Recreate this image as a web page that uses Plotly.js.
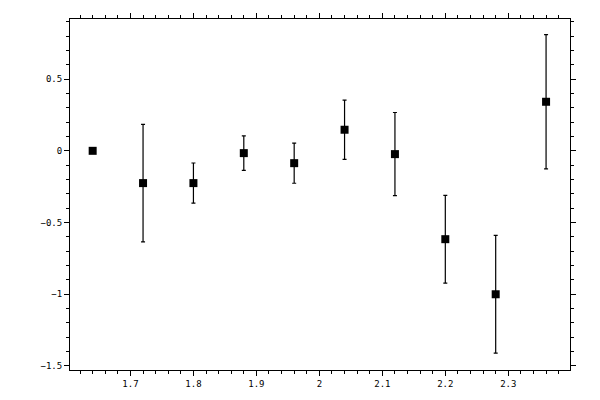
<!DOCTYPE html>
<html>
<head>
<meta charset="utf-8">
<script src="https://cdn.plot.ly/plotly-3.0.1.min.js"></script>
<style>
  html, body { margin: 0; padding: 0; background: #fff; }
  #plot { width: 600px; height: 400px; }
</style>
</head>
<body>
<div id="plot"></div>
<script>
  // values
  var xVals = [1.64, 1.72, 1.80, 1.88, 1.96, 2.04, 2.12, 2.20, 2.28, 2.36];
  var yVals = [0.0, -0.225, -0.225, -0.016, -0.086, 0.147, -0.023, -0.616, -1.0, 0.342];
  var yErr  = [0.0, 0.41, 0.14, 0.12, 0.14, 0.207, 0.29, 0.306, 0.41, 0.468];

  var axisFont = { family: 'DejaVu Sans Mono', size: 9, color: '#000' };

  var trace = {
    x: xVals,
    y: yVals,
    type: 'scatter',
    mode: 'markers',
    marker: { symbol: 'square', size: 8, color: '#000' },
    error_y: {
      type: 'data',
      array: yErr,
      visible: true,
      color: '#000',
      thickness: 1.2,
      width: 2
    },
    showlegend: false
  };

  var layout = {
    width: 600,
    height: 400,
    margin: { l: 70, r: 30, t: 19, b: 30 },
    paper_bgcolor: '#fff',
    plot_bgcolor: '#fff',
    xaxis: {
      range: [1.604, 2.398],
      dtick: 0.1,
      tick0: 1.7,
      ticks: 'outside',
      ticklen: 5,
      tickwidth: 1,
      tickcolor: '#000',
      showline: true,
      linecolor: '#000',
      linewidth: 1,
      mirror: 'allticks',
      showgrid: false,
      zeroline: false,
      tickfont: axisFont,
      minor: { dtick: 0.02, tick0: 1.7, ticks: 'outside', ticklen: 3, tickcolor: '#000', showgrid: false }
    },
    yaxis: {
      range: [-1.528, 0.919],
      dtick: 0.5,
      tick0: 0,
      ticks: 'outside',
      ticklen: 5,
      tickwidth: 1,
      tickcolor: '#000',
      showline: true,
      linecolor: '#000',
      linewidth: 1,
      mirror: 'allticks',
      showgrid: false,
      zeroline: false,
      tickfont: axisFont,
      minor: { dtick: 0.1, tick0: 0, ticks: 'outside', ticklen: 3, tickcolor: '#000', showgrid: false }
    }
  };

  Plotly.newPlot('plot', [trace], layout, { displayModeBar: false, staticPlot: true });
</script>
</body>
</html>
